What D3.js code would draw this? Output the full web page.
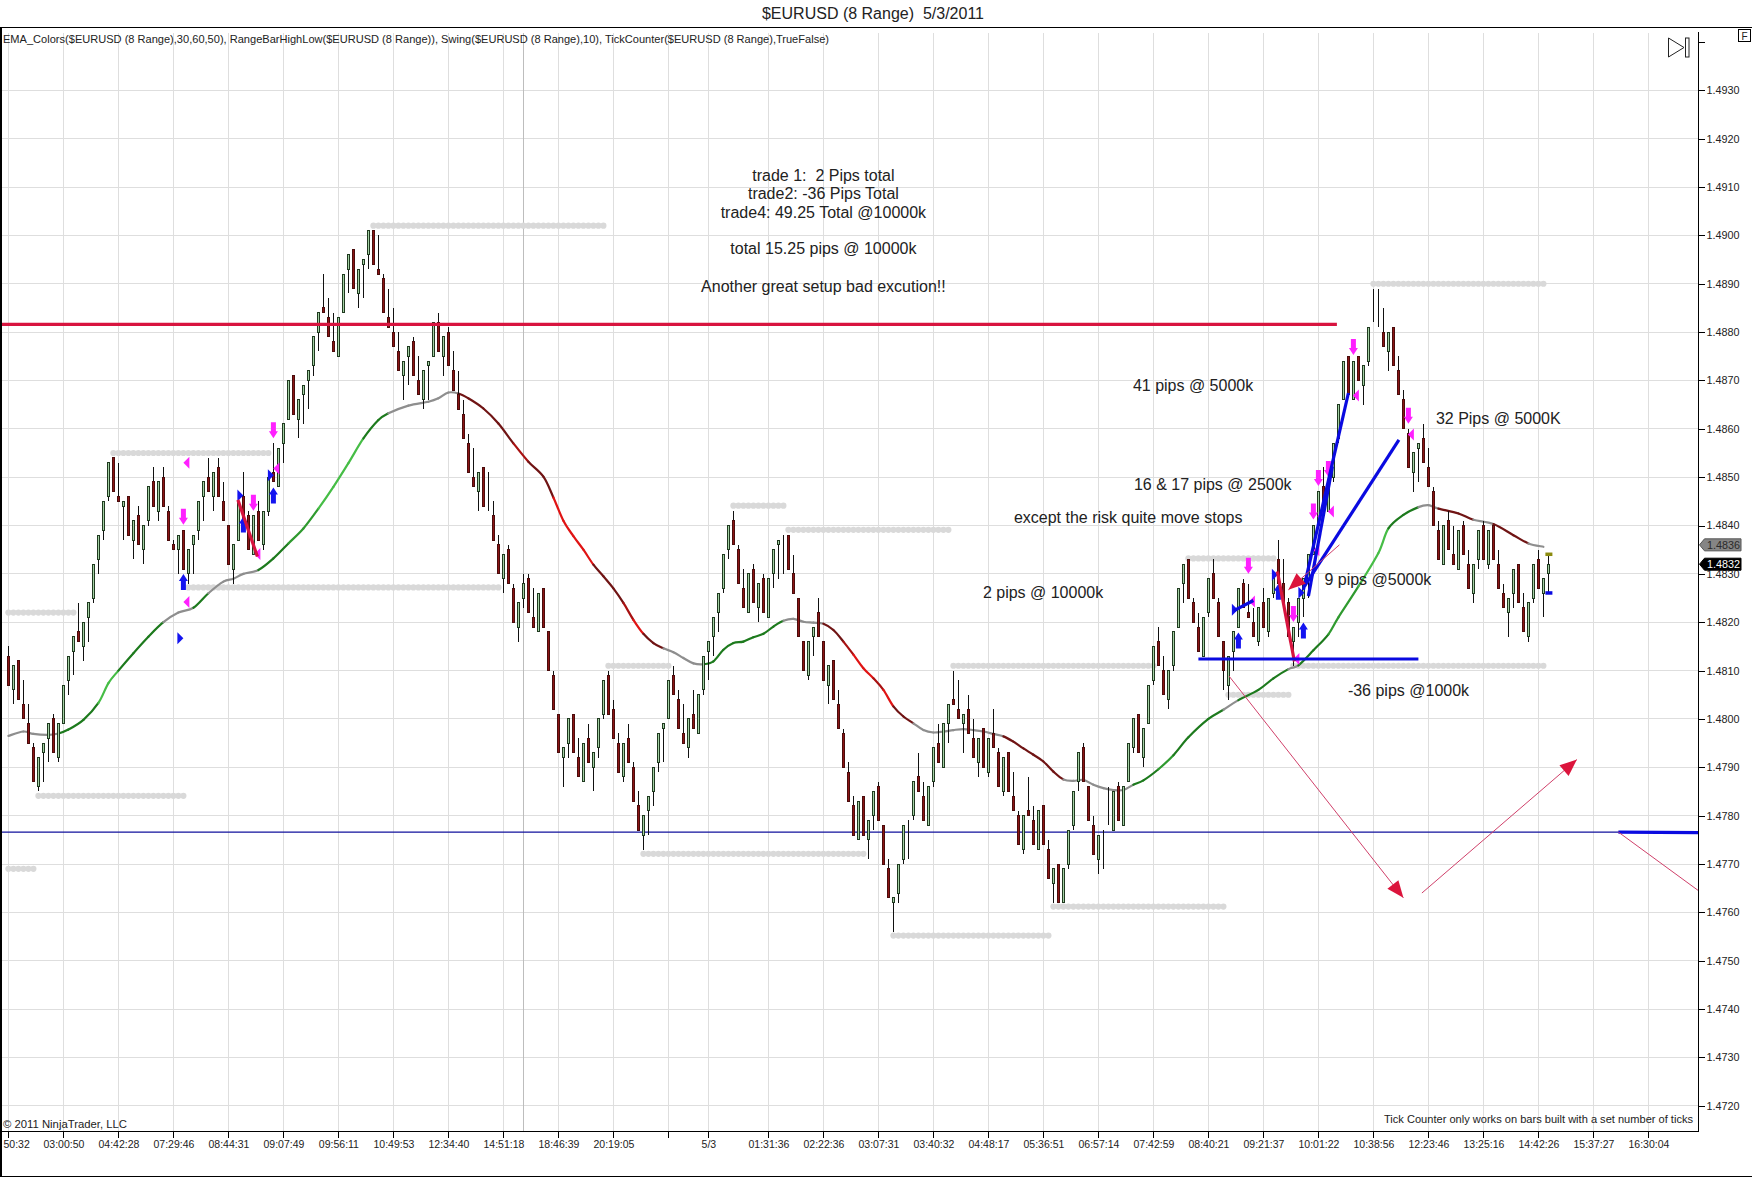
<!DOCTYPE html>
<html><head><meta charset="utf-8">
<script src="https://cdnjs.cloudflare.com/ajax/libs/d3/7.8.5/d3.min.js"></script>
<style>
html,body{margin:0;padding:0;background:#fff;overflow:hidden}
svg{display:block}
text{font-family:"Liberation Sans",Arial,sans-serif;fill:#222}
</style></head><body>
<svg id="c" width="1752" height="1177"></svg>
<script>
// All prices below are pips above 1.4000 (813 = 1.4813); bars are counted from the left.
const opens=[
813,806,812,803,799,794,786,793,796,800,
792,799,808,814,818,815,821,825,833,839,
846,854,846,844,846,837,842,835,841,849,
843,850,843,836,835,839,830,836,839,846,
850,846,852,845,840,831,837,846,842,834,
843,836,843,851,848,857,862,871,862,867,
870,873,880,885,883,878,875,884,893,897,
888,894,896,901,893,891,883,880,876,871,
875,878,870,866,873,875,882,875,880,872,
867,863,857,850,847,852,843,842,836,829,
835,827,819,825,829,821,818,827,818,809,
801,792,795,801,792,787,796,790,794,801,
809,802,795,788,796,790,782,776,781,785,
791,798,800,809,804,797,794,801,797,806,
814,817,822,827,835,841,835,827,822,831,
823,829,821,830,836,838,838,830,825,816,
809,817,822,816,807,812,803,797,789,782,
775,784,775,780,786,778,769,762,764,771,
779,780,788,784,778,787,795,790,799,804,
802,799,802,796,791,798,789,797,793,785,
793,784,780,773,781,779,773,782,773,766,
770,762,770,778,787,794,786,778,771,777,
778,777,786,778,787,794,801,792,799,808,
816,810,804,811,819,828,833,824,819,813,
822,830,824,816,807,814,819,828,822,820,
816,824,818,826,833,828,824,816,820,825,
829,834,840,848,843,850,858,866,875,866,
875,869,874,882,881,880,876,881,872,866,
859,851,856,858,852,847,839,832,841,834,
831,840,832,826,833,840,832,840,832,826,
822,826,832,823,817,825,833,826,830];
const highs=[
815,811,812,808,803,795,792,795,799,801,
799,807,813,817,824,820,824,832,838,845,
853,854,853,845,846,841,844,840,848,852,
849,852,844,837,838,839,835,838,845,849,
854,851,854,849,840,836,845,851,843,842,
845,843,850,857,856,861,870,871,866,869,
872,879,884,892,887,884,883,892,896,897,
893,895,901,901,900,892,889,885,880,874,
877,879,875,872,874,882,884,879,881,876,
872,866,859,856,851,852,851,845,838,834,
836,828,824,830,830,827,826,827,818,810,
801,794,800,801,796,795,799,793,800,808,
810,804,797,795,799,791,785,780,784,790,
797,799,808,811,806,803,800,806,805,813,
816,821,826,834,840,843,836,831,830,832,
828,830,829,835,837,838,838,834,825,816,
816,819,825,816,811,812,806,798,791,784,
783,784,779,785,787,778,771,763,770,778,
779,787,793,787,786,794,799,799,803,810,
808,801,805,800,796,798,796,802,794,792,
793,789,781,780,788,782,781,782,775,769,
770,769,777,785,793,795,786,780,776,777,
786,785,787,786,795,800,801,798,807,815,
819,813,810,818,827,832,833,825,822,821,
829,833,825,816,813,818,827,829,828,823,
823,827,825,830,837,833,825,819,825,829,
834,840,847,852,849,857,865,874,875,874,
875,873,881,889,889,885,880,881,875,868,
860,855,857,861,856,848,841,840,843,840,
839,841,835,832,839,841,839,840,835,828,
825,831,832,826,824,832,835,829,834];
const lows=[
807,803,804,800,795,787,785,787,791,793,
791,799,805,809,816,812,816,824,830,837,
845,847,845,837,838,833,836,832,840,844,
841,844,837,835,830,831,828,830,837,841,
847,843,846,841,832,828,837,840,835,834,
837,835,842,849,848,853,862,863,858,861,
864,871,876,884,879,876,875,884,888,889,
885,887,893,894,892,884,881,877,872,866,
869,871,867,864,866,875,876,871,873,868,
864,858,851,848,843,844,843,837,830,826,
828,820,816,823,822,819,818,819,810,802,
793,786,792,793,788,787,791,785,792,800,
801,796,789,787,791,783,777,773,776,782,
789,791,800,805,798,795,792,798,797,805,
808,813,818,826,833,836,828,823,822,824,
820,822,821,827,829,830,831,826,817,810,
808,813,817,808,803,804,798,790,783,776,
775,776,771,777,779,770,763,756,762,770,
771,779,785,779,778,786,791,790,795,803,
800,793,797,792,788,790,788,794,786,784,
785,781,774,772,780,774,773,774,767,762,
762,762,769,777,785,787,779,772,768,769,
778,777,779,778,787,793,793,790,799,807,
811,805,802,810,819,824,825,820,814,813,
821,825,817,806,804,810,819,823,821,817,
815,819,817,825,828,824,817,811,817,821,
825,834,840,842,843,849,857,866,867,866,
870,865,873,882,881,877,872,873,867,860,
852,847,849,853,848,840,833,832,835,832,
831,834,827,824,831,833,831,833,827,823,
817,823,824,818,816,824,827,821,826];
const closes=[
807,811,804,800,795,787,792,795,799,793,
799,807,813,817,816,820,824,832,838,845,
853,847,845,845,838,841,836,840,848,844,
849,844,837,835,838,831,835,838,845,849,
847,851,846,841,832,836,845,840,835,842,
837,843,850,849,856,861,870,863,866,869,
872,879,884,884,879,876,883,892,896,889,
893,895,901,894,892,884,881,877,872,874,
877,871,867,872,874,882,876,879,873,868,
864,858,851,848,851,844,843,837,830,834,
828,820,824,828,822,819,826,819,810,802,
793,794,800,793,788,795,791,793,800,808,
801,796,789,795,791,783,777,780,784,790,
797,799,808,805,798,795,800,798,805,813,
816,821,826,834,840,836,828,823,830,824,
828,822,829,835,837,838,831,826,817,810,
816,819,817,808,811,804,798,790,783,776,
783,776,779,785,779,770,763,763,770,778,
779,787,785,779,786,794,791,799,803,803,
800,801,797,792,796,790,796,794,786,792,
785,781,774,780,780,774,781,774,767,769,
762,769,777,785,793,787,779,772,776,777,
778,785,779,786,795,800,793,798,807,815,
811,805,810,818,827,832,825,820,814,821,
829,825,817,810,813,818,827,823,821,817,
823,819,825,830,828,824,817,819,825,829,
834,840,847,842,849,857,865,874,867,874,
870,873,881,882,881,877,880,873,867,860,
852,855,857,853,848,840,833,840,835,832,
839,834,827,832,839,833,839,833,827,823,
825,831,824,818,824,832,827,829,832];

const emaBars=[0,3,5,8,10,12,15,18,20,22,25,28,31,34,37,40,43,45,47,50,53,56,59,62,65,68,71,74,76,80,84,86,88,90,92,95,98,101,104,107,109,111,113,115,117,119,121,123,125,127,129,131,133,135,137,139,141,143,145,147,149,151,153,155,157,159,161,163,165,167,169,171,173,175,177,179,181,183,185,187,189,191,193,195,197,199,201,203,205,207,209,211,213,215,217,219,221,223,225,227,230,233,236,240,243,246,250,253,256,258,261,264,266,270,274,276,279,282,284,286,290,293,297,301,304,307];
const emaValues=[796.5,797.4,796.9,796.7,797,797.8,799.8,803.3,807.4,810,813.6,817,820,822,823,826,828.4,829,830,830.8,833.2,836.3,839.4,843.5,848,852.9,858,861.8,863.2,864.8,865.6,866.3,867.5,867.3,866.3,864.2,861.1,857,853.2,850.1,845.8,841,837.8,835,831.9,829.5,827,824,820.5,817.6,815.7,814.6,813.8,812.6,811.5,811.3,811.9,814.3,815.7,816,816.9,817.6,819.1,820.3,820.7,820.1,819.9,819.7,818.4,816,813.3,810.5,808.4,806,802.6,800.5,799.1,797.7,797.2,797.4,797.7,797.9,797.7,797.4,796.9,796.4,795.3,793.9,792.6,791.2,789.1,787.5,787.2,787.4,786.4,785.7,785.3,785.3,786.4,787.3,789.6,792.5,796.2,800,801.9,803.9,806,808.4,810.3,811.1,814.2,817.5,821,827.4,834.3,839.4,842.2,843.8,844.2,843.5,842.5,841.2,840.3,838,836.3,835.6];
// where each shade of the average starts: g grey, D/M/L green dark to light, r/R/B red dark to bright
const shadeBars=[0,10,18,22,31,37,40,50,56,62,71,76,90,101,104,109,117,123,125,127,131,139,155,163,167,169,173,175,177,181,199,211,224,230,233,242,246,255,258,264,270,276,282,286,293,297,304];
const shadeCodes=["g","D","L","D","g","D","g","D","M","L","D","g","r","R","r","B","r","R","B","r","g","D","g","r","R","B","R","B","r","g","r","g","D","M","D","g","D","g","D","M","L","D","g","r","g","r","g"];
const shadeColors={g:"#8e8e8e",D:"#1d7a1d",M:"#2f9a2f",L:"#46bd46",r:"#701414",R:"#a81212",B:"#e01414"};

const levelStarts=[73,21,36,0,6,0,145,156,120,189,257,127,177,209,236,244,273];
const levelEnds=[119,52,98,13,35,5,155,188,132,229,307,171,208,243,253,256,307];
const levelPrices=[902,855,827.2,822,784.1,769,844.1,839.1,811,811,811,772.1,755.2,761.2,833.2,805,890];

const downBars=[35,49,53,269,280,248,257,262,264,261];
const downPrices=[841.8,844.7,859.7,876.9,862.7,831.7,821.7,849.8,851.7,842.9];
const upBars=[35,47,53,246,254,259];
const upPrices=[828.3,840.2,846.2,816.2,826.3,818.3];
const leftBars=[35.6,35.6,49.8,53.6,269.5,280.5,262.4,264.5,261.6,257.6,248.7];
const leftPrices=[853,824.2,834.1,851.8,866.9,858.8,841.9,842.9,834.9,812.4,824.3];
const rightBars=[34.4,46.4,52.5,245.3,253.3,258.6];
const rightPrices=[816.7,846.2,850.4,822.6,829.8,826.1];

// drawn lines: bar,price -> bar,price
const thickBlue=[[238,812.4,282,812.4],[259,826.7,268,867.4],[260,825.4,264.8,852.2],[259.2,827.4,278.1,857.7],[245.1,822.4,249,824.5],[322,776.6,338,776.5]];
const thickRed=[[-2,881.6,265.7,881.6],[45.9,845.3,49.8,833.6],[253.8,830.5,257.2,811.9]];
const thinArrows=[[244.1,808.9,279,763],[282.7,764,313.7,791.6],[266.2,836,256,826.7]];
const thinRed=[[322,776.6,338,764.5]];
const blueRule=[-2,776.6,338,776.6];

const tickBars=[0,11,22,33,44,55,66,77,88,99,110,121,132,140,152,163,174,185,196,207,218,229,240,251,262,273,284,295,306,317,328];
const tickLabels=["50:32","03:00:50","04:42:28","07:29:46","08:44:31","09:07:49","09:56:11","10:49:53","12:34:40","14:51:18","18:46:39","20:19:05","","5/3","01:31:36","02:22:36","03:07:31","03:40:32","04:48:17","05:36:51","06:57:14","07:42:59","08:40:21","09:21:37","10:01:22","10:38:56","12:23:46","13:25:16","14:42:26","15:37:27","16:30:04"];
const priceTicks=[940,930,920,910,900,890,880,870,860,850,840,830,820,810,800,790,780,770,760,750,740,730,720];
const sessionBar=103;

const blockLines=["trade 1:  2 Pips total","trade2: -36 Pips Total","trade4: 49.25 Total @10000k","total 15.25 pips @ 10000k","Another great setup bad excution!!"];
const blockPrices=[912.4,908.7,904.8,897.2,889.5];
const blockBar=163;
const noteTexts=["41 pips @ 5000k","32 Pips @ 5000K","16 & 17 pips @ 2500k","except the risk quite move stops","2 pips @ 10000k","9 pips @5000k","-36 pips @1000k"];
const noteBars=[224.9,285.5,225.1,201.1,194.9,263.2,267.9];
const notePrices=[868.9,862.2,848.5,841.6,826.2,828.9,805.8];

const svg=d3.select("#c");
const x=d3.scaleLinear().domain([0,338]).range([8.4,1698.4]);
const y=d3.scaleLinear().domain([720,930]).range([1105.8,90.3]);
const fmt=v=>(1.4+v/10000).toFixed(4);
const AX=1698.5, BOT=1131.5, TOP=27.5;

// grid
const grid=svg.append("g").attr("stroke","#dedede").attr("stroke-width",1).attr("shape-rendering","crispEdges");
grid.selectAll("line.v").data(tickBars).join("line").attr("x1",d=>x(d)).attr("x2",d=>x(d)).attr("y1",33).attr("y2",BOT);
grid.selectAll("line.h").data(priceTicks.filter(p=>p<=930)).join("line").attr("x1",2).attr("x2",AX).attr("y1",d=>y(d)).attr("y2",d=>y(d));
svg.append("line").attr("x1",x(sessionBar)).attr("x2",x(sessionBar)).attr("y1",33).attr("y2",BOT).attr("stroke","#bdbdbd").attr("shape-rendering","crispEdges");

// swing levels as rows of dots
const dots=svg.append("g").attr("fill","#d9d9d9");
levelStarts.forEach((s,k)=>{
  const n=d3.range(s,levelEnds[k]+0.01,1);
  dots.selectAll(null).data(n).join("circle").attr("cx",d=>x(d)).attr("cy",y(levelPrices[k])).attr("r",3.1);
});

// blue rule
svg.append("line").attr("x1",x(blueRule[0])).attr("y1",y(blueRule[1])).attr("x2",x(blueRule[2])).attr("y2",y(blueRule[3])).attr("stroke","#10109c").attr("stroke-width",1.2);

// EMA: each stretch is one piece of a smooth curve through the read points
const lineGen=d3.line().x(d=>x(d[0])).y(d=>y(d[1]));
const shadeAt=b=>{let c="g";shadeBars.forEach((s,k)=>{if(s<=b)c=shadeCodes[k];});return shadeColors[c];};
const ema=svg.append("g").attr("fill","none").attr("stroke-width",2.2).attr("stroke-linecap","round");
const P=i=>{const k=Math.max(0,Math.min(emaBars.length-1,i));return [x(emaBars[k]),y(emaValues[k])];};
for(let i=0;i<emaBars.length-1;i++){
  const a=P(i-1),b=P(i),c=P(i+1),e=P(i+2);
  const p=d3.path();
  p.moveTo(b[0],b[1]);
  p.bezierCurveTo(b[0]+(c[0]-a[0])/6,b[1]+(c[1]-a[1])/6,c[0]-(e[0]-b[0])/6,c[1]-(e[1]-b[1])/6,c[0],c[1]);
  ema.append("path").attr("d",p.toString()).attr("stroke",shadeAt(emaBars[i]));
}

// candles
const idx=d3.range(opens.length);
const cg=svg.append("g").attr("shape-rendering","crispEdges");
cg.selectAll("line").data(idx).join("line")
  .attr("x1",i=>Math.round(x(i))+.5).attr("x2",i=>Math.round(x(i))+.5)
  .attr("y1",i=>y(highs[i])).attr("y2",i=>y(lows[i])).attr("stroke","#111");
cg.selectAll("rect").data(idx).join("rect")
  .attr("x",i=>Math.round(x(i))-.5)
  .attr("width",2)
  .attr("y",i=>y(Math.max(opens[i],closes[i])))
  .attr("height",i=>Math.abs(y(opens[i])-y(closes[i])))
  .attr("fill",i=>closes[i]>=opens[i]?"#a4d0a4":"#8b1414")
  .attr("stroke",i=>closes[i]>=opens[i]?"#1f3a1f":"#4a0c0c");

// last bar dashes
svg.append("rect").attr("x",x(308)-3).attr("width",7).attr("y",y(834)-2).attr("height",3.5).attr("fill","#8c8c10");
svg.append("rect").attr("x",x(308)-3).attr("width",7).attr("y",y(826)-2).attr("height",3.5).attr("fill","#0a0ae0");

// markers
const mk=(bars,prices,path,fill)=>svg.append("g").attr("fill",fill).selectAll("path").data(bars).join("path")
  .attr("d",path).attr("transform",(d,i)=>`translate(${x(d)},${y(prices[i])})`);
mk(rightBars,rightPrices,"M3,0 L-3,-6 L-3,6Z","#1414f0");
mk(leftBars,leftPrices,"M-3,0 L3,-6 L3,6Z","#ff20ff");
mk(downBars,downPrices,"M-2.5,-8 H2.5 V1 H4.5 L0,8 L-4.5,1 H-2.5Z","#ff20ff");
mk(upBars,upPrices,"M-2.5,8 H2.5 V-1 H4.5 L0,-8 L-4.5,-1 H-2.5Z","#1414f0");

// hand-drawn lines
const seg=(arr,color,w)=>svg.append("g").attr("stroke",color).attr("stroke-width",w).attr("fill","none")
  .selectAll("path").data(arr).join("path").attr("d",d=>lineGen([[d[0],d[1]],[d[2],d[3]]]));
seg(thickRed,"#d8143f",3.2);
seg(thickBlue,"#0a0ae0",3.2);
seg(thinArrows,"#d0406a",1);
seg(thinRed,"#d0406a",1);
svg.append("g").attr("fill","#dc143c").selectAll("path").data(thinArrows).join("path")
  .attr("d","M0,0 L-17,-7 L-17,7Z")
  .attr("transform",d=>{const a=Math.atan2(y(d[3])-y(d[1]),x(d[2])-x(d[0]))*180/Math.PI;return `translate(${x(d[2])},${y(d[3])}) rotate(${a})`;});

// axes
const xAxis=d3.axisBottom(x).tickValues(tickBars).tickSize(6).tickPadding(3).tickFormat((d,i)=>tickLabels[i]);
const gx=svg.append("g").attr("transform",`translate(0,${BOT})`).call(xAxis);
gx.select(".domain").remove();
gx.selectAll("line").attr("stroke","#000").attr("shape-rendering","crispEdges");
gx.selectAll("text").attr("font-size","10.5px").attr("font-family","Liberation Sans").style("fill","#222");
gx.selectAll(".tick").filter((d,i)=>i===0).select("text").attr("text-anchor","start").attr("x",-5.4);
const yAxis=d3.axisRight(y).tickValues(priceTicks).tickSize(6).tickPadding(2).tickFormat(d=>d>930?"":fmt(d));
const gy=svg.append("g").attr("transform",`translate(${AX},0)`).call(yAxis);
gy.select(".domain").remove();
gy.selectAll("line").attr("stroke","#000").attr("shape-rendering","crispEdges");
gy.selectAll("text").attr("font-size","10.8px").attr("font-family","Liberation Sans").style("fill","#222");

// frame
const frame=svg.append("g").attr("stroke","#000").attr("shape-rendering","crispEdges");
frame.append("line").attr("x1",0).attr("x2",1752).attr("y1",TOP).attr("y2",TOP);
frame.append("line").attr("x1",1).attr("x2",1).attr("y1",TOP).attr("y2",1177).attr("stroke-width",2);
frame.append("line").attr("x1",1).attr("x2",AX).attr("y1",BOT).attr("y2",BOT);
frame.append("line").attr("x1",AX).attr("x2",AX).attr("y1",32).attr("y2",BOT);
frame.append("line").attr("x1",0).attr("x2",1752).attr("y1",1176).attr("y2",1176);
frame.append("rect").attr("x",1738.5).attr("y",29.5).attr("width",12).attr("height",12).attr("fill","#fff");
svg.append("text").attr("x",1744.5).attr("y",39.5).attr("text-anchor","middle").attr("font-size","10px").text("F");

// skip-to-end icon
svg.append("path").attr("d","M1668.5,38 V57 L1684,47.5Z").attr("fill","#fff").attr("stroke","#222");
svg.append("rect").attr("x",1685.5).attr("y",38).attr("width",3.5).attr("height",19).attr("fill","#fff").attr("stroke","#222");

// price flags
const flag=(p,fill,col)=>{
  const yy=y(p);
  svg.append("path").attr("d",`M${AX+1},${yy} L${AX+6},${yy-6} H1741 V${yy+6} H${AX+6}Z`).attr("fill",fill).attr("stroke",fill==="#000"?"#000":"#555");
  svg.append("text").attr("x",1707).attr("y",yy+4).attr("font-size","10.8px").style("fill",col).text(fmt(p));
};
flag(836,"#858585","#2a2a2a");
flag(832,"#000","#fff");

// texts
svg.append("text").attr("x",873).attr("y",19).attr("text-anchor","middle").attr("font-size","16px").style("white-space","pre").text("$EURUSD (8 Range)  5/3/2011");
svg.append("text").attr("x",3).attr("y",42.5).attr("font-size","11px").attr("textLength",826).attr("lengthAdjust","spacingAndGlyphs")
  .text("EMA_Colors($EURUSD (8 Range),30,60,50), RangeBarHighLow($EURUSD (8 Range)), Swing($EURUSD (8 Range),10), TickCounter($EURUSD (8 Range),TrueFalse)");
svg.append("text").attr("x",3).attr("y",1128).attr("font-size","11px").attr("textLength",124).attr("lengthAdjust","spacingAndGlyphs").text("© 2011 NinjaTrader, LLC");
svg.append("text").attr("x",1384).attr("y",1123).attr("font-size","11px").attr("textLength",309).attr("lengthAdjust","spacingAndGlyphs").text("Tick Counter only works on bars built with a set number of ticks");
svg.append("g").selectAll("text").data(blockLines).join("text")
  .attr("x",x(blockBar)).attr("y",(d,i)=>y(blockPrices[i])+5.5).attr("text-anchor","middle").attr("font-size","16px").style("white-space","pre").text(d=>d);
svg.append("g").selectAll("text").data(noteTexts).join("text")
  .attr("x",(d,i)=>x(noteBars[i])).attr("y",(d,i)=>y(notePrices[i])+5.5).attr("font-size","16px").text(d=>d);
</script>
</body></html>
